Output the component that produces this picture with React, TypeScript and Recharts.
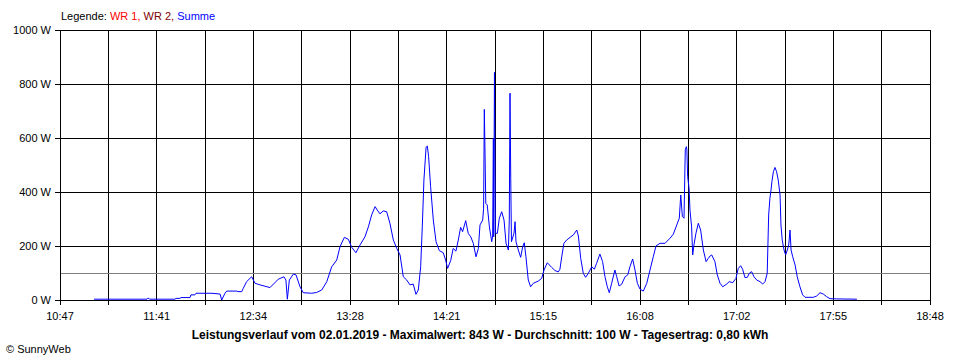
import React from "react";
import { LineChart, Line, XAxis, YAxis, CartesianGrid, ReferenceLine } from "recharts";

// minutes after 10:47
const times = [
  18.8, 48.1, 48.4, 49.2, 49.5, 63.6, 64.1, 66.3, 66.9, 71.9, 72.4, 74.6, 75.2, 81.8, 84.0, 88.5, 89.4, 91.2, 92.2, 97.7,
  98.4, 100.5, 101.3, 103.2, 105.0, 106.0, 107.8, 110.6, 116.1, 120.7, 123.8, 124.9, 125.7, 126.8, 129.0, 130.5, 132.7, 134.5, 139.2, 141.9,
  144.7, 147.5, 150.2, 153.0, 154.8, 157.2, 159.4, 161.3, 163.6, 165.9, 168.6, 170.5, 172.3, 174.2, 175.4, 176.9, 178.7, 180.6, 182.4, 184.3,
  186.2, 188.0, 189.8, 191.7, 193.5, 195.3, 196.8, 198.1, 199.4, 200.3, 201.2, 202.4, 203.1, 203.8, 204.9, 206.4, 207.9, 209.7, 211.9, 213.2,
  214.3, 216.0, 217.4, 218.9, 220.2, 221.5, 222.6, 224.3, 225.7, 227.1, 228.5, 230.0, 231.3, 232.2, 233.7, 234.2, 234.6, 235.0, 235.4, 236.2,
  237.4, 238.7, 239.2, 239.6, 239.8, 240.2, 240.7, 241.8, 242.9, 244.2, 245.5, 246.6, 247.9, 248.4, 248.8, 249.2, 249.6, 251.0, 251.6, 252.1,
  253.4, 254.7, 255.8, 256.7, 257.6, 258.9, 260.2, 261.7, 264.4, 266.3, 267.6, 269.4, 271.8, 273.7, 275.5, 276.4, 277.4, 278.6, 280.1, 282.0,
  283.8, 285.7, 286.6, 287.9, 289.3, 290.6, 292.1, 294.0, 295.4, 296.7, 298.5, 300.0, 301.3, 302.6, 303.7, 305.0, 306.8, 307.8, 309.1, 310.5,
  312.4, 313.9, 315.1, 316.6, 317.9, 319.2, 320.7, 322.5, 324.4, 326.2, 328.0, 329.5, 331.7, 334.5, 337.3, 339.1, 341.0, 342.4, 343.2, 344.1,
  345.0, 345.7, 346.3, 346.6, 347.0, 347.8, 348.3, 349.2, 349.8, 350.5, 351.6, 352.9, 354.2, 355.7, 357.2, 358.4, 359.4, 360.3, 362.1, 363.4,
  364.9, 366.4, 368.6, 370.0, 371.9, 373.7, 375.0, 376.3, 377.4, 378.7, 380.0, 381.1, 382.4, 383.7, 385.2, 387.0, 388.5, 389.8, 391.0, 391.8,
  392.5, 393.1, 393.6, 394.4, 395.3, 396.2, 397.1, 398.1, 398.6, 399.3, 400.3, 401.2, 402.1, 402.9, 403.6, 404.2, 405.1, 406.4, 407.6, 409.1,
  410.6, 411.9, 416.5, 418.4, 420.2, 422.0, 423.9, 425.7, 429.4, 440.6,
];

// Watt (Summe)
const watts = [
  3, 3, 6, 6, 3, 3, 6, 6, 9, 9, 19, 19, 25, 25, 25, 22, 0, 25, 33, 33,
  31, 31, 43, 68, 80, 86, 62, 56, 46, 77, 86, 74, 3, 74, 96, 93, 49, 27, 25, 28,
  37, 68, 123, 148, 197, 232, 225, 195, 175, 204, 234, 271, 315, 346, 333, 319, 330, 327, 284, 222,
  191, 167, 86, 74, 56, 59, 21, 37, 123, 271, 444, 566, 570, 531, 420, 296, 216, 183, 175, 148,
  117, 146, 191, 181, 222, 269, 253, 294, 247, 234, 210, 160, 191, 278, 296, 340, 706, 537, 358, 352,
  271, 216, 237, 599, 234, 843, 247, 247, 303, 327, 296, 210, 185, 296, 766, 451, 216, 247, 290, 216,
  185, 158, 197, 212, 160, 74, 49, 62, 70, 80, 111, 138, 121, 109, 104, 114, 160, 210, 222, 232,
  241, 259, 237, 154, 99, 84, 99, 123, 114, 136, 170, 142, 86, 49, 27, 62, 111, 86, 52, 58,
  86, 93, 123, 152, 111, 62, 40, 33, 62, 111, 160, 200, 210, 210, 229, 244, 278, 303, 389, 309,
  303, 556, 568, 556, 457, 414, 333, 271, 167, 204, 247, 284, 259, 185, 142, 154, 163, 167, 142, 93,
  62, 49, 59, 68, 64, 80, 117, 127, 114, 83, 84, 99, 105, 86, 74, 68, 59, 68, 99, 315,
  377, 407, 438, 475, 491, 475, 444, 389, 278, 222, 185, 167, 185, 204, 259, 185, 160, 130, 86, 49,
  19, 10, 10, 15, 27, 22, 12, 5, 4, 3,
];

const xLabels = ["10:47", "11:41", "12:34", "13:28", "14:21", "15:15", "16:08", "17:02", "17:55", "18:48"];
const yTicks = [0, 200, 400, 600, 800, 1000];
const spanMinutes = 481;
const gridCount = 18;
const xTicks = Array.from({ length: gridCount + 1 }, (_, i) => (i * spanMinutes) / gridCount);
const average = 100;

const data = times.map((t, i) => ({ t, w: watts[i] }));

const FONT = "'Liberation Sans', Arial, sans-serif";

export default function App() {
  return (
    <div style={{ position: "relative", width: 960, height: 360, background: "#fff", fontFamily: FONT }}>
      <style>{`body{margin:0;}`}</style>
      <LineChart width={960} height={360} data={data} margin={{ top: 30, right: 30, bottom: 40, left: 0 }}>
        <CartesianGrid stroke="#000" strokeWidth={1} shapeRendering="crispEdges" />
        <XAxis
          dataKey="t"
          type="number"
          domain={[0, spanMinutes]}
          ticks={xTicks}
          interval={0}
          height={20}
          tickSize={5}
          tickMargin={7}
          axisLine={{ stroke: "#000", shapeRendering: "crispEdges" }}
          tickLine={{ stroke: "#000", shapeRendering: "crispEdges" }}
          tick={{ fill: "#000", fontSize: 11, fontFamily: FONT }}
          tickFormatter={(v: number, i: number) => (i % 2 === 0 ? xLabels[i / 2] : "")}
        />
        <YAxis
          type="number"
          domain={[0, 1000]}
          ticks={yTicks}
          interval={0}
          width={60}
          tickSize={5}
          tickMargin={4}
          axisLine={{ stroke: "#000", shapeRendering: "crispEdges" }}
          tickLine={{ stroke: "#000", shapeRendering: "crispEdges" }}
          tick={{ fill: "#000", fontSize: 11, fontFamily: FONT }}
          tickFormatter={(v: number) => `${v} W`}
        />
        <ReferenceLine y={average} stroke="#808080" strokeWidth={1} shapeRendering="crispEdges" />
        <Line
          type="linear"
          dataKey="w"
          stroke="#0000ff"
          strokeWidth={1}
          dot={false}
          activeDot={false}
          isAnimationActive={false}
        />
      </LineChart>
      <div style={{ position: "absolute", left: 61, top: 10, fontSize: 11, lineHeight: "13px", whiteSpace: "nowrap", color: "#000" }}>
        Legende: <span style={{ color: "#ff0000" }}>WR 1,</span> <span style={{ color: "#800000" }}>WR 2,</span>{" "}
        <span style={{ color: "#0000ff" }}>Summe</span>
      </div>
      <div
        style={{
          position: "absolute",
          left: 0,
          width: 960,
          top: 328,
          textAlign: "center",
          fontSize: 12,
          lineHeight: "14px",
          fontWeight: "bold",
          whiteSpace: "nowrap",
          color: "#000",
        }}
      >
        Leistungsverlauf vom 02.01.2019 - Maximalwert: 843 W - Durchschnitt: 100 W - Tagesertrag: 0,80 kWh
      </div>
      <div style={{ position: "absolute", left: 6, top: 343, fontSize: 11, lineHeight: "13px", whiteSpace: "nowrap", color: "#000" }}>
        © SunnyWeb
      </div>
    </div>
  );
}
